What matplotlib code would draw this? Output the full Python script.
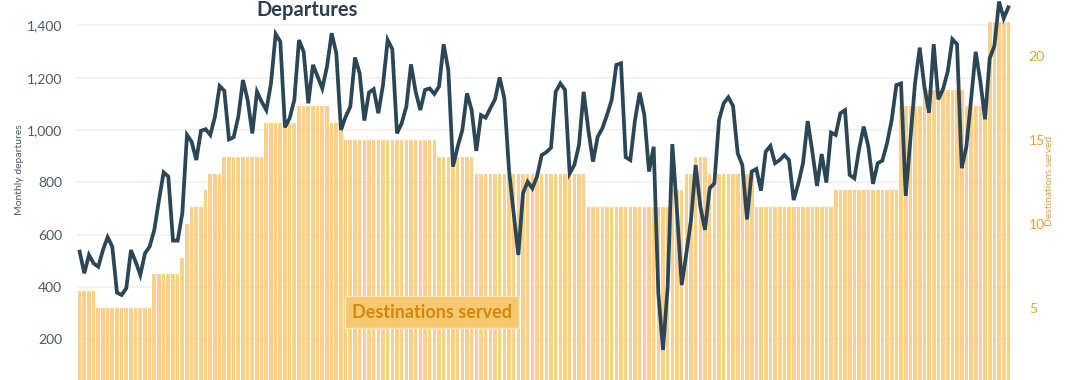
import matplotlib
matplotlib.use("Agg")
import matplotlib.pyplot as plt

# Monthly departures (line, left axis)
departures = [
    535, 452, 522, 490, 477, 541, 590, 554, 378, 369, 395, 541, 496, 446, 528, 554, 618, 732, 838, 822,
    577, 577, 681, 981, 955, 885, 997, 1003, 981, 1051, 1168, 1150, 964, 972,
    1051, 1191, 1115, 987, 1146, 1108, 1076, 1178, 1367, 1338, 1010, 1045, 1115, 1344, 1299, 1102,
    1249, 1204, 1159, 1242, 1370, 1293, 1000, 1051, 1089, 1277, 1217, 1036, 1143, 1156, 1064, 1172, 1344,
    1309, 987, 1026, 1089, 1251, 1146, 1076, 1153, 1159, 1138, 1166, 1328, 1229, 860, 936, 1000,
    1140, 1076, 920, 1057, 1047, 1083, 1117, 1201, 1121, 847, 681, 522, 758, 802, 777, 822, 904,
    915,
    932, 1146, 1178, 1153, 834, 866, 943, 1146, 1000, 879, 974, 1006, 1057, 1115, 1249, 1255, 896,
    885, 1038, 1143, 1057, 841, 936, 375, 159, 401, 946, 688, 407, 528, 656, 866, 707,
    618, 777, 796, 1038, 1102, 1125, 1092, 911, 866, 658, 841, 851, 768, 917, 939, 873, 885, 904,
    885, 732, 796, 873, 1034, 917, 786, 908, 799, 990, 981, 1064, 1076, 828, 815,
    925, 1013, 936, 794, 873, 883, 949, 1038, 1172, 1178, 748, 962, 1178, 1315, 1166, 1066, 1328,
    1117, 1156, 1223, 1347, 1328, 854, 936, 1115, 1299, 1185, 1041, 1274, 1321, 1491, 1427, 1469,
]

# Destinations served (bars, right axis)
destinations = [
    6, 6, 6, 6, 5, 5, 5, 5, 5, 5, 5, 5, 5, 5, 5, 5, 7, 7, 7, 7,
    7, 7, 8, 10, 11, 11, 11, 12, 13, 13, 13, 14, 14, 14, 14, 14, 14, 14, 14, 14,
    16, 16, 16, 16, 16, 16, 16, 17, 17, 17, 17, 17, 17, 17, 16, 16, 16, 15, 15, 15,
    15, 15, 15, 15, 15, 15, 15, 15, 15, 15, 15, 15, 15, 15, 15, 15, 15, 14, 14, 14,
    14, 14, 14, 14, 14, 13, 13, 13, 13, 13, 13, 13, 13, 13, 13, 13, 13, 13, 13, 13,
    13, 13, 13, 13, 13, 13, 13, 13, 13, 11, 11, 11, 11, 11, 11, 11, 11, 11, 11, 11,
    11, 11, 11, 11, 11, 11, 11, 12, 12, 12, 13, 13, 14, 14, 14, 13, 13, 13, 13, 13,
    13, 13, 13, 13, 13, 11, 11, 11, 11, 11, 11, 11, 11, 11, 11, 11, 11, 11, 11, 11,
    11, 11, 12, 12, 12, 12, 12, 12, 12, 12, 12, 12, 12, 12, 12, 12, 17, 17, 17, 17,
    17, 18, 18, 18, 18, 18, 18, 18, 18, 18, 17, 17, 17, 17, 17, 22, 22, 22, 22, 22,
]

left_ticks = [200, 400, 600, 800, 1000, 1200, 1400]
left_labels = ["200", "400", "600", "800", "1,000", "1,200", "1,400"]
right_ticks = [5, 10, 15, 20]
right_labels = ["5", "10", "15", "20"]

plt.rcParams['font.family'] = ['Lato', 'DejaVu Sans']

W, H = 1080, 380
fig = plt.figure(figsize=(W / 100, H / 100), dpi=100)
x0, x1 = 77.3, 1010.7
rect = [x0 / W, 0, (x1 - x0) / W, 1]

x = list(range(len(departures)))
xlim = (-0.5, len(departures) - 0.5)
ylim_left = (44, 1497)
ylim_right = (0.71, 23.33)

# background grid axes
axg = fig.add_axes(rect, zorder=0)
axg.set_xlim(*xlim)
axg.set_ylim(*ylim_left)
axg.set_yticks(left_ticks)
axg.grid(axis='y', color='#f0f0f0', lw=1.2)
axg.tick_params(left=False, bottom=False, labelleft=False, labelbottom=False)
for s in axg.spines.values():
    s.set_visible(False)

# bars axes (right scale)
axb = fig.add_axes(rect, zorder=1)
axb.patch.set_visible(False)
axb.bar(x, destinations, width=0.78, color='#fdd08a', linewidth=0)
axb.set_xlim(*xlim)
axb.set_ylim(*ylim_right)
axb.yaxis.tick_right()
axb.set_yticks(right_ticks)
axb.set_yticklabels(right_labels)
axb.tick_params(axis='y', length=0, pad=13, labelsize=10, labelcolor='#e3a038')
axb.tick_params(axis='x', bottom=False, labelbottom=False)
for s in axb.spines.values():
    s.set_visible(False)

# line axes (left scale)
axl = fig.add_axes(rect, zorder=2)
axl.patch.set_visible(False)
axl.plot(x, departures, color='#2b4657', lw=2.7, solid_joinstyle='miter')
axl.set_xlim(*xlim)
axl.set_ylim(*ylim_left)
axl.set_yticks(left_ticks)
axl.set_yticklabels(left_labels)
axl.tick_params(axis='y', length=0, pad=11, labelsize=10, labelcolor='#4a5a68')
axl.tick_params(axis='x', bottom=False, labelbottom=False)
for s in axl.spines.values():
    s.set_visible(False)

fig.text(307 / W, 1 - 16 / H, 'Departures', ha='center', va='baseline',
         fontsize=14.5, fontweight='bold', color='#2c3e50')
fig.text(20 / W, 1 - 170 / H, 'Monthly departures', rotation=90, ha='center', va='center',
         fontsize=7.5, color='#4a5a68')
fig.text(1050 / W, 1 - 181 / H, 'Destinations served', rotation=90, ha='center', va='center',
         fontsize=7.5, color='#e3a038')
fig.text(432 / W, 1 - 312 / H, 'Destinations served', ha='center', va='center',
         fontsize=13, fontweight='bold', color='#d4870a', zorder=5,
         bbox=dict(boxstyle='square,pad=0.4', fc='#f8c870', ec='#fde7c0', lw=1))

fig.savefig('out.png', dpi=100)
